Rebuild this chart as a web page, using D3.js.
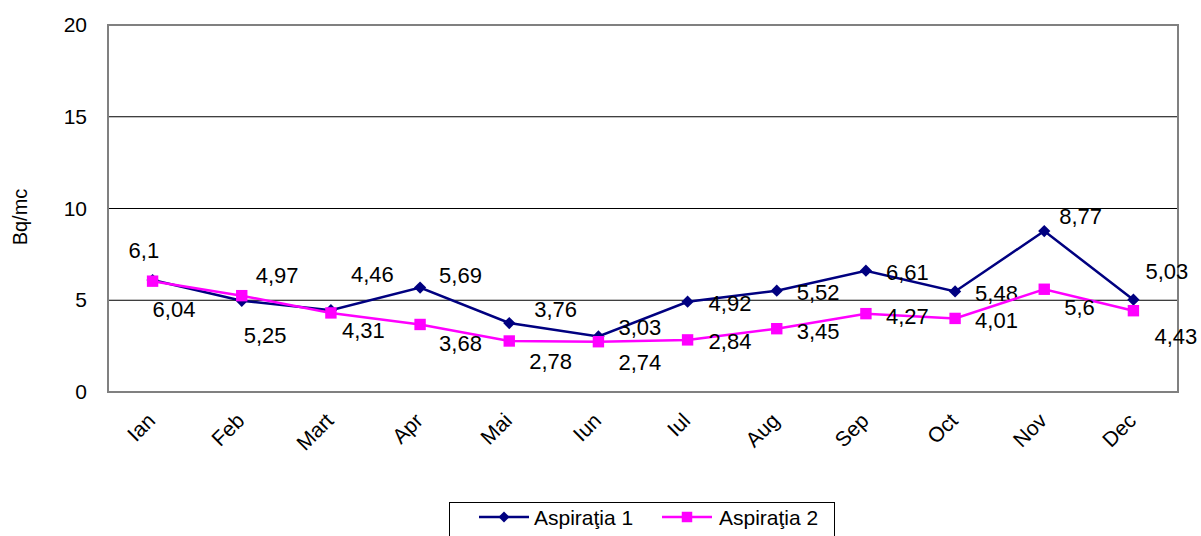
<!DOCTYPE html>
<html>
<head>
<meta charset="utf-8">
<script src="https://cdn.jsdelivr.net/npm/d3@7"></script>
<style>
  html, body { margin: 0; padding: 0; background: #fff; }
  svg { display: block; font-family: "Liberation Sans", Arial, sans-serif; }
</style>
</head>
<body>
<svg id="chart" width="1201" height="536"></svg>
<script>
// ---- data ----
const months = ["Ian", "Feb", "Mart", "Apr", "Mai", "Iun", "Iul", "Aug", "Sep", "Oct", "Nov", "Dec"];
const aspiratia1 = [6.1, 4.97, 4.46, 5.69, 3.76, 3.03, 4.92, 5.52, 6.61, 5.48, 8.77, 5.03];
const aspiratia2 = [6.04, 5.25, 4.31, 3.68, 2.78, 2.74, 2.84, 3.45, 4.27, 4.01, 5.6, 4.43];
const seriesNames = ["Aspiraţia 1", "Aspiraţia 2"];
const yTicks = [0, 5, 10, 15, 20];
const yTitle = "Bq/mc";

// ---- layout (label offsets relative to markers) ----
const labelOff1 = [[-24,-30],[14,-26],[20,-36],[19,-13],[25,-14],[20,-9],[21,1],[20,1],[20,1],[20,2],[15,-15],[12,-29]];
const labelOff2 = [[0,28],[2,39],[11,17],[19,19],[20,20],[20,20],[21,1],[20,2],[20,2],[20,2],[20,18],[21,25]];

const svg = d3.select("#chart");
const L = 108, R = 1178, T = 25, B = 392;

const x = d3.scaleBand().domain(months).range([L, R]);
const y = d3.scaleLinear().domain([0, 20]).range([B, T]);

// gridlines
svg.append("g").selectAll("line").data(yTicks.filter(d => d > 0 && d < 20)).join("line")
  .attr("x1", L).attr("x2", R)
  .attr("y1", d => y(d)).attr("y2", d => y(d))
  .attr("stroke", "#000").attr("stroke-width", 1);

// frame
svg.append("rect").attr("x", L).attr("y", T).attr("width", R - L).attr("height", B - T)
  .attr("fill", "none").attr("stroke", "#808080").attr("stroke-width", 2);

// y axis (labels only)
const yAxis = d3.axisLeft(y).tickValues(yTicks).tickSize(0).tickPadding(21);
const gy = svg.append("g").attr("transform", `translate(${L},0)`).call(yAxis);
gy.select(".domain").remove();
gy.selectAll("text").attr("font-size", 21).attr("fill", "#000")
  .attr("font-family", "Liberation Sans, Arial, sans-serif");

// y title
svg.append("text")
  .attr("transform", "translate(27,217) rotate(-90)")
  .attr("text-anchor", "middle")
  .attr("font-size", 20)
  .text(yTitle);

// x axis labels
const xAxis = d3.axisBottom(x).tickSize(0).tickPadding(0);
const gx = svg.append("g").attr("transform", `translate(0,${B})`).call(xAxis);
gx.select(".domain").remove();
gx.selectAll(".tick text")
  .attr("font-size", 21).attr("fill", "#000")
  .attr("font-family", "Liberation Sans, Arial, sans-serif")
  .attr("text-anchor", "end")
  .attr("dy", null).attr("y", null)
  .attr("transform", "translate(4,30) rotate(-45)");

const cx = (i) => x(months[i]) + x.bandwidth() / 2;

function drawSeries(vals, color, isSquare, offs) {
  const line = d3.line().x((d, i) => cx(i)).y(d => y(d));
  svg.append("path").datum(vals).attr("d", line)
    .attr("fill", "none").attr("stroke", color).attr("stroke-width", 2.5);
  const sym = d3.symbol().type(d3.symbolSquare).size(isSquare ? 130 : 75);
  svg.append("g").selectAll("path").data(vals).join("path")
    .attr("transform", (d, i) => isSquare
      ? `translate(${cx(i)},${y(d)})`
      : `translate(${cx(i)},${y(d)}) rotate(45)`)
    .attr("d", sym())
    .attr("fill", color);
  svg.append("g").selectAll("text").data(vals).join("text")
    .attr("x", (d, i) => cx(i) + offs[i][0])
    .attr("y", (d, i) => y(d) + offs[i][1] + 8)
    .attr("font-size", 22)
    .text(d => String(d).replace(".", ","));
}

drawSeries(aspiratia1, "#000080", false, labelOff1);
drawSeries(aspiratia2, "#FF00FF", true, labelOff2);

// legend
const lg = svg.append("g");
lg.append("rect").attr("x", 449.5).attr("y", 502.5).attr("width", 385).attr("height", 50)
  .attr("fill", "#fff").attr("stroke", "#000").attr("stroke-width", 1);
const legendItems = [
  { name: seriesNames[0], color: "#000080", x0: 479, x1: 529, tx: 534, sq: false },
  { name: seriesNames[1], color: "#FF00FF", x0: 662, x1: 712, tx: 719, sq: true }
];
legendItems.forEach(it => {
  lg.append("line").attr("x1", it.x0).attr("x2", it.x1).attr("y1", 517).attr("y2", 517)
    .attr("stroke", it.color).attr("stroke-width", 2.5);
  const mx = (it.x0 + it.x1) / 2;
  if (it.sq) {
    lg.append("path").attr("transform", `translate(${mx},517)`)
      .attr("d", d3.symbol().type(d3.symbolSquare).size(110)()).attr("fill", it.color);
  } else {
    lg.append("path").attr("transform", `translate(${mx},517) rotate(45)`)
      .attr("d", d3.symbol().type(d3.symbolSquare).size(60)()).attr("fill", it.color);
  }
  lg.append("text").attr("x", it.tx).attr("y", 524.5).attr("font-size", 21).text(it.name);
});
</script>
</body>
</html>
